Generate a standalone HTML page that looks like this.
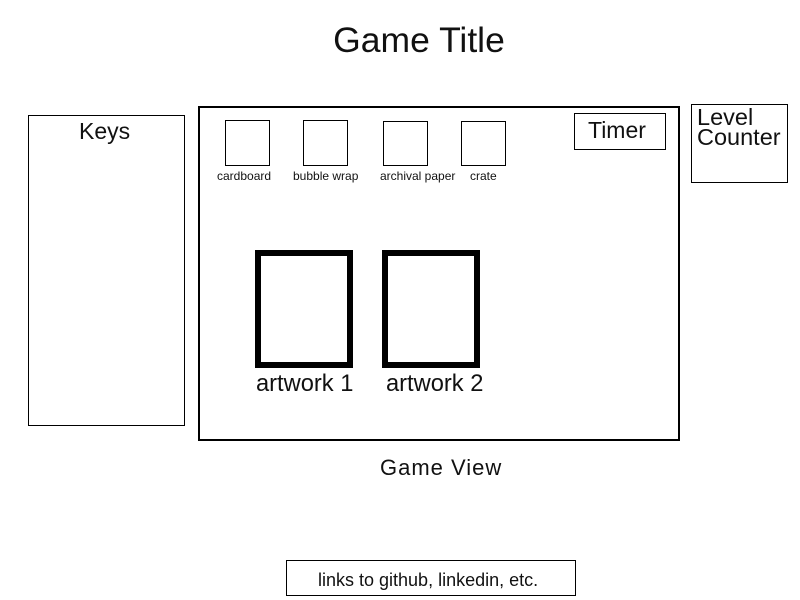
<!DOCTYPE html>
<html><head><style>
body{margin:0;width:800px;height:600px;background:#fff;position:relative;font-family:"Liberation Sans",Arial,sans-serif;color:#111;overflow:hidden}
div{position:absolute;box-sizing:border-box}
.b{border:1px solid #000}
.t{white-space:nowrap}
</style></head><body>
<div class="t" style="left:0;width:838px;top:20px;font-size:35.5px;text-align:center">Game Title</div>
<div class="b" style="left:28px;top:115px;width:157px;height:311px"></div>
<div class="t" style="left:79px;top:118px;font-size:23px">Keys</div>
<div style="left:198px;top:106px;width:482px;height:335px;border:2px solid #000"></div>
<div class="b" style="left:225px;top:120px;width:45px;height:46px"></div>
<div class="b" style="left:303px;top:120px;width:45px;height:46px"></div>
<div class="b" style="left:383px;top:121px;width:45px;height:45px"></div>
<div class="b" style="left:461px;top:121px;width:45px;height:45px"></div>
<div class="t" style="left:217px;top:169px;font-size:12px">cardboard</div>
<div class="t" style="left:293px;top:169px;font-size:12px">bubble wrap</div>
<div class="t" style="left:380px;top:169px;font-size:12px">archival paper</div>
<div class="t" style="left:470px;top:169px;font-size:12px">crate</div>
<div class="b" style="left:574px;top:113px;width:92px;height:37px"></div>
<div class="t" style="left:588px;top:117px;font-size:23px">Timer</div>
<div class="b" style="left:691px;top:104px;width:97px;height:79px"></div>
<div class="t" style="left:697px;top:107px;font-size:23.5px;line-height:20px">Level<br>Counter</div>
<div style="left:255px;top:250px;width:98px;height:118px;border:6px solid #000"></div>
<div style="left:382px;top:250px;width:98px;height:118px;border:6px solid #000"></div>
<div class="t" style="left:256px;top:371px;font-size:23.7px">artwork 1</div>
<div class="t" style="left:386px;top:371px;font-size:23.7px">artwork 2</div>
<div class="t" style="left:380px;top:455px;font-size:22px;letter-spacing:1px">Game View</div>
<div class="b" style="left:286px;top:560px;width:290px;height:36px"></div>
<div class="t" style="left:318px;top:570px;font-size:18px">links to github, linkedin, etc.</div>
</body></html>
